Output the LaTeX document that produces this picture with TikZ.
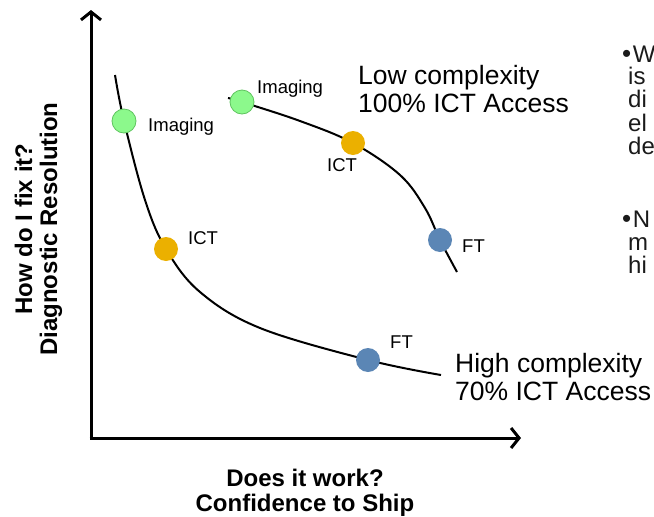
\documentclass[tikz,border=0pt]{standalone}
\usepackage{fontspec}
\setmainfont{Liberation Sans}
\usetikzlibrary{arrows.meta}
\definecolor{dotgreen}{HTML}{8CF98C}
\definecolor{dotgreenb}{HTML}{5FC45F}
\definecolor{dotorange}{HTML}{EBB000}
\definecolor{dotblue}{HTML}{5B86B5}
\definecolor{sidetext}{HTML}{1A1A1A}
\tikzset{
  axis/.style={line width=3pt,-{Straight Barb[length=8pt,width=20pt,line width=3pt]}},
  curveline/.style={line width=2pt,black},
  dot/.style={circle,inner sep=0pt,minimum size=24pt},
  gdot/.style={dot,fill=dotgreen,draw=dotgreenb,line width=0.8pt},
  odot/.style={dot,fill=dotorange},
  bdot/.style={dot,fill=dotblue},
  small/.style={font=\fontsize{18.5pt}{20pt}\selectfont,inner sep=0pt,anchor=base west},
  big/.style={font=\fontsize{26.5pt}{28pt}\selectfont,inner sep=0pt,anchor=base west},
  axlabel/.style={font=\bfseries\fontsize{24pt}{25pt}\selectfont,inner sep=0pt,anchor=base},
  side/.style={font=\fontsize{24pt}{26pt}\selectfont,inner sep=0pt,anchor=base west,text=sidetext},
}
\newcommand{\sidebullet}{{\fontsize{26pt}{26pt}\selectfont\textbullet}\hspace{1.5pt}}
\begin{document}
\begin{tikzpicture}[x=1pt,y=-1pt]
\useasboundingbox (0,0) rectangle (654,517);
% axes
\coordinate (origin) at (91,438);
\coordinate (ytip) at (91,10);
\coordinate (xtip) at (521,438);
\draw[axis] (91,439.5) -- (ytip);
\draw[axis] (89.5,438) -- (xtip);
% curve 1 points
\coordinate (h0) at (115,75);
\coordinate (himg) at (124,121);
\coordinate (hict) at (166,249);
\coordinate (hft) at (368,360);
\coordinate (hend) at (441,375);
\draw[curveline] plot[smooth,tension=0.6] coordinates {(h0) (himg) (145,200) (hict) (200,292) (260,328) (hft) (hend)};
% curve 2 points
\coordinate (l0) at (228,98);
\coordinate (limg) at (242,102);
\coordinate (lict) at (353,143);
\coordinate (lft) at (440,240);
\coordinate (lend) at (457,272);
\draw[curveline] plot[smooth,tension=0.6] coordinates {(l0) (limg) (300,121) (lict) (400,175) (425,208) (lft) (lend)};
% dots
\node[gdot] (n1) at (himg) {};
\node[odot] (n2) at (hict) {};
\node[bdot] (n3) at (hft) {};
\node[gdot] (n4) at (limg) {};
\node[odot] (n5) at (lict) {};
\node[bdot] (n6) at (lft) {};
% dot labels
\node[small] (t1) at (148,131) {Imaging};
\node[small] (t2) at (188,244) {ICT};
\node[small] (t3) at (390,348) {FT};
\node[small] (t4) at (257,93) {Imaging};
\node[small] (t5) at (327,171) {ICT};
\node[small] (t6) at (462,252) {FT};
% curve labels
\node[big] (low1) at (358,84.5) {Low complexity};
\node[big] (low2) at (358,112.5) {100\% ICT Access};
\node[big] (high1) at (455,372) {High complexity};
\node[big] (high2) at (455,400) {70\% ICT Access};
% axis labels
\node[axlabel] (xlab1) at (305,486.5) {Does it work?};
\node[axlabel] (xlab2) at (305,511.5) {Confidence to Ship};
\node[axlabel,rotate=90] (ylab1) at (32,229) {How do I fix it?};
\node[axlabel,rotate=90] (ylab2) at (57,229) {Diagnostic Resolution};
% cut-off side text
\begin{scope}
\clip (600,0) rectangle (654,517);
\node[side] (s1) at (622,62) {\sidebullet W};
\node[side] (s2) at (628,84) {is};
\node[side] (s3) at (628,107) {di};
\node[side] (s4) at (628,131) {el};
\node[side] (s5) at (628,154) {de};
\node[side] (s6) at (622,227) {\sidebullet N};
\node[side] (s7) at (628,250) {m};
\node[side] (s8) at (628,273) {hi};
\end{scope}
\end{tikzpicture}
\end{document}
